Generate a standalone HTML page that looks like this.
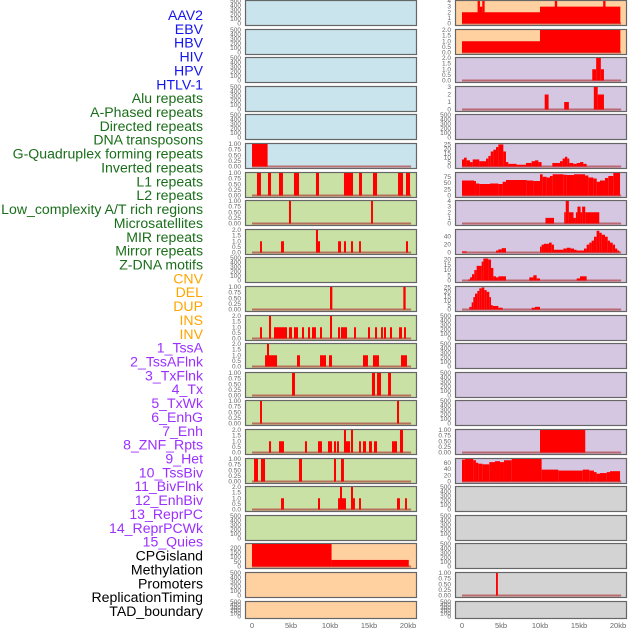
<!DOCTYPE html>
<html><head><meta charset="utf-8"><style>
html,body{margin:0;padding:0;background:#fff;width:630px;height:630px;overflow:hidden}
svg{display:block}
</style></head><body>
<svg id="chart" width="630" height="630" xmlns="http://www.w3.org/2000/svg"></svg>
<script>
const labelNames = ["AAV2","EBV","HBV","HIV","HPV","HTLV-1","Alu repeats","A-Phased repeats","Directed repeats","DNA transposons","G-Quadruplex forming repeats","Inverted repeats","L1 repeats","L2 repeats","Low_complexity A/T rich regions","Microsatellites","MIR repeats","Mirror repeats","Z-DNA motifs","CNV","DEL","DUP","INS","INV","1_TssA","2_TssAFlnk","3_TxFlnk","4_Tx","5_TxWk","6_EnhG","7_Enh","8_ZNF_Rpts","9_Het","10_TssBiv","11_BivFlnk","12_EnhBiv","13_ReprPC","14_ReprPCWk","15_Quies","CPGisland","Methylation","Promoters","ReplicationTiming","TAD_boundary"];
const labelGroups = ["v","v","v","v","v","v","r","r","r","r","r","r","r","r","r","r","r","r","r","s","s","s","s","s","c","c","c","c","c","c","c","c","c","c","c","c","c","c","c","o","o","o","o","o"];
const xTickKb = [0,5,10,15,20];
const xTickText = ["0","5kb","10kb","15kb","20kb"];
const ticksEmpty = [0,100,200,300,400,500];
const ticksUnit = [0,0.25,0.5,0.75,1];
const ticks2 = [0,0.5,1,1.5,2];
// left column segments [startKb, endKb, value]
const segsL5 = [[0,2.0,1]];
const segsL6 = [[0.64,1.15,1],[2.05,2.44,1],[3.46,3.97,1],[5.38,6.03,1],[8.2,8.59,1],[11.79,12.95,1],[13.72,14.1,1],[15.51,16.03,1],[18.72,19.36,1],[19.74,20.26,1]];
const segsL7 = [[4.74,5.0,1],[15.26,15.51,1]];
const segsL8 = [[1.03,1.28,1],[3.72,4.1,1],[8.2,8.46,2],[8.46,8.72,1],[11.03,11.41,1],[11.79,12.05,1],[12.69,12.95,1],[13.72,13.97,1],[19.74,20.0,1]];
const segsL10 = [[10.0,10.3,1],[19.4,19.7,1]];
const segsL11 = [[1.03,1.28,1],[2.18,2.44,2],[2.82,4.49,1],[4.74,5.13,1],[5.38,5.9,1],[6.41,6.67,1],[7.18,7.44,1],[7.69,8.2,1],[8.72,8.97,1],[10.0,10.26,2],[11.03,11.28,1],[11.41,12.18,1],[13.08,13.33,1],[14.87,15.13,1],[15.77,16.03,1],[16.54,16.79,1],[16.92,17.18,1],[17.69,17.95,1],[18.85,19.23,1],[19.49,19.74,1]];
const segsL12 = [[1.67,3.21,1],[1.92,2.18,2],[5.77,6.15,1],[8.72,9.49,1],[9.87,10.26,1],[14.23,14.87,1],[15.51,16.28,1],[19.1,19.87,1]];
const segsL13 = [[5.13,5.51,1],[15.38,15.77,1],[16.03,16.54,1],[17.44,17.82,1]];
const segsL14 = [[1.03,1.28,1],[18.59,18.85,1]];
const segsL15 = [[2.18,2.44,1],[3.46,4.1,1],[6.79,7.05,1],[8.46,8.97,1],[9.74,10.26,1],[10.51,10.77,1],[10.9,11.15,1],[11.79,12.05,2],[12.05,12.56,1],[12.69,12.95,2],[13.72,13.97,1],[14.23,14.62,1],[15.0,15.38,1],[15.64,16.03,1],[17.95,18.59,1],[18.97,19.36,2]];
const segsL16 = [[0.26,0.77,1],[1.15,1.67,1],[6.03,6.41,1],[10.51,10.77,1],[11.41,11.79,1]];
const segsL17 = [[3.72,4.1,1],[8.46,8.72,1],[11.03,11.28,1],[11.28,11.54,2],[11.54,12.05,1],[12.69,12.95,2],[12.95,13.2,1],[13.72,13.97,1],[18.59,18.97,1],[19.62,19.87,1]];
const segsL19 = [[0,10.2,250],[10.2,20.1,71]];
// right column
const segsR0 = [[0,10,2],[10,20.3,3],[2.0,2.3,4],[2.3,2.6,3],[2.6,2.9,4],[11.9,12.2,4],[18.1,18.4,4]];
const segsR1 = [[0,10,1],[10,20.3,2]];
const segsR2 = [[16.7,17.2,1],[17.2,17.8,2],[17.8,18.2,1]];
const segsR3 = [[10.6,11.1,2],[13.1,13.7,1],[16.9,17.4,3],[17.4,18.2,2]];
const edgesR5 = [0,0.26,0.6,1.03,1.37,2.22,3.08,3.38,3.68,4.02,4.36,4.66,5.3,5.64,5.94,7.0,8.2,8.93,9.36,9.79,10.2,11.58,12.56,12.9,13.2,13.5,13.76,14.27,14.7,15.13,15.56,15.98];
const valsR5 = [8,10,7,5,8,6,9,12,17,19,22,25,17,5,3,2,4,6,7,5,0,4,6,9,11,9,4,3,4,5,3];
const edgesR6 = [0,1.54,1.79,2.22,3.59,4.66,5.21,5.64,8.29,9.15,10.0,10.34,10.85,11.28,11.62,12.99,13.42,14.36,15.77,16.2,16.84,17.27,17.69,18.33,18.76,19.4,20.26];
const valsR6 = [60,58,48,46,48,46,55,62,60,58,85,75,72,78,85,83,82,85,80,72,68,55,60,70,78,90];
const segsR7 = [[10.7,11.8,1],[13.1,13.3,2],[13.3,13.7,4],[13.7,14.3,2],[14.3,14.6,1],[14.6,14.8,2],[14.8,15.2,3],[15.2,15.4,2],[15.4,15.8,3],[15.8,17.6,2]];
const segsR8 = [[0,0.6,3],[4.36,4.66,5],[4.66,5.09,8],[5.09,5.64,11],[10.0,10.21,15],[10.21,10.51,20],[10.51,11.15,22],[11.15,11.5,25],[11.5,11.79,20],[11.79,12.99,7],[12.99,13.42,10],[13.42,13.93,12],[13.93,14.36,10],[14.36,14.7,7],[14.7,15.64,5],[15.64,15.98,10],[15.98,16.32,20],[16.32,16.62,25],[16.62,16.92,30],[16.92,17.26,40],[17.26,17.61,55],[17.61,17.91,50],[17.91,18.33,45],[18.33,18.68,40],[18.68,18.97,30],[18.97,19.32,25],[19.32,19.62,20],[19.62,19.91,10],[19.91,20.17,5]];
const segsR9 = [[0.77,1.03,1],[1.03,1.28,3],[1.28,1.58,6],[1.58,1.88,10],[1.88,2.52,14],[2.52,2.74,18],[2.74,3.38,21],[3.38,3.72,20],[3.72,4.02,12],[4.02,4.36,4],[4.36,4.66,3],[4.66,5.64,4],[8.63,9.15,3],[9.15,9.57,5],[9.57,10.0,2],[14.7,15.13,2],[15.13,15.98,4]];
const segsR10 = [[0.94,1.24,3],[1.24,1.45,8],[1.45,1.67,14],[1.67,1.97,18],[1.97,2.22,21],[2.22,2.52,24],[2.52,2.86,25],[2.86,3.16,22],[3.16,3.5,20],[3.5,3.72,14],[3.72,3.93,5],[3.93,4.66,4],[4.66,5.21,2],[8.93,9.36,2],[9.36,10.0,3]];
const segsR15 = [[10,15.8,1]];
const edgesR16 = [0,0.38,1.45,1.79,2.09,2.61,3.5,4.23,4.87,5.38,6.37,10.21,12.35,15.47,16.32,16.92,17.26,17.69,18.55,18.97,20.26];
const valsR16 = [70,72,68,60,57,55,62,65,62,68,72,38,35,38,35,30,25,27,30,33];
const segsR20 = [[4.36,4.6,1]];

function prof(edges, vals){ const out=[]; for(let i=0;i<vals.length;i++) out.push([edges[i],edges[i+1],vals[i]]); return out; }

const B="#c9e4ec",G="#c9e1a4",P="#ffd1a0",U="#d5c6e2",Y="#d3d3d3";
const leftTracks = [
 [B,ticksEmpty,500,null],[B,ticksEmpty,500,null],[B,ticksEmpty,500,null],[B,ticksEmpty,500,null],[B,ticksEmpty,500,null],
 [B,ticksUnit,1,segsL5],[G,ticksUnit,1,segsL6],[G,ticksUnit,1,segsL7],[G,ticks2,2,segsL8],[G,ticksEmpty,500,null],
 [G,ticksUnit,1,segsL10],[G,ticks2,2,segsL11],[G,ticks2,2,segsL12],[G,ticksUnit,1,segsL13],[G,ticksUnit,1,segsL14],
 [G,ticks2,2,segsL15],[G,ticksUnit,1,segsL16],[G,ticks2,2,segsL17],[G,ticksEmpty,500,null],
 [P,[0,50,100,150,200],243,segsL19],[P,ticksEmpty,500,null],[P,ticksEmpty,500,null]
];
const rightTracks = [
 [P,[0,1,2,3,4],4,segsR0],[P,ticks2,2,segsR1],[U,ticks2,2,segsR2],[U,[0,1,2,3],3,segsR3],[U,ticksEmpty,500,null],
 [U,[0,5,10,15,20,25],25.5,prof(edgesR5,valsR5)],[U,[0,25,50,75],90,prof(edgesR6,valsR6)],[U,[0,1,2,3,4],4,segsR7],
 [U,[0,20,40],57,segsR8],[U,[0,5,10,15,20],21.5,segsR9],[U,[0,5,10,15,20,25],25.5,segsR10],
 [U,ticksEmpty,500,null],[U,ticksEmpty,500,null],[U,ticksEmpty,500,null],[U,ticksEmpty,500,null],
 [U,ticksUnit,1,segsR15],[U,[0,20,40,60],72,prof(edgesR16,valsR16)],
 [Y,ticksEmpty,500,null],[Y,ticksEmpty,500,null],[Y,ticksEmpty,500,null],[Y,ticksUnit,1,segsR20],[Y,ticksEmpty,500,null]
];

const svg=document.getElementById('chart');
const NS="http://www.w3.org/2000/svg";
function mk(tag,attrs,parent){const e=document.createElementNS(NS,tag);for(const k in attrs)e.setAttribute(k,attrs[k]);(parent||svg).appendChild(e);return e;}
function fmt(t,ticks){const dec=ticks.some(v=>v%1!==0)?(ticks.some(v=>(v*10)%1!==0)?2:1):0;return t.toFixed(dec);}

const colors={v:"#1515ee",r:"#1a6e1a",s:"#ffa500",c:"#9b30ff",o:"#000"};
labelNames.forEach((n,i)=>{
  const t=mk('text',{x:203,y:20+i*13.86,'text-anchor':'end','font-family':'Liberation Sans, sans-serif','font-size':'14.1',fill:colors[labelGroups[i]]});
  
  
  t.textContent=n;
});

function drawCol(tracks,px,colName){
  const x0=px+7, kbW=7.8;
  const xs=kb=>x0+kb*kbW;
  tracks.forEach((tr,i)=>{
    const [bg,ticks,max,segs]=tr;
    const top=Math.round(i*28.6), h=(i===tracks.length-1)?17:25;
    const g=mk('g',{});
    
    
    mk('rect',{x:px+0.5,y:top+0.5,width:171,height:h,fill:bg,stroke:'#666','stroke-width':1.2},g);
    const yb=top+h-1.5, yt=top+1;
    const ys=v=>yb-(Math.min(v,max)/max)*(yb-yt);
    ticks.forEach(t=>{
      const tx=mk('text',{x:px-4,y:ys(t)+2,'text-anchor':'end','font-family':'Liberation Sans, sans-serif','font-size':'6.5',fill:'#666'},g);
      
      
      tx.textContent=fmt(t,ticks);
    });
    if(segs){
      mk('line',{x1:xs(0),x2:xs(20.4),y1:yb,y2:yb,stroke:'#b04040','stroke-width':2,'stroke-opacity':0.7},g);
      segs.forEach(s=>{
        const r=mk('rect',{x:xs(s[0]),y:ys(s[2]),width:Math.max(xs(s[1])-xs(s[0]),1.5),height:yb-ys(s[2]),fill:'#ff0000'},g);
        
        
      });
    }
  });
  xTickKb.forEach((k,i)=>{
    const t=mk('text',{x:xs(k),y:628,'text-anchor':'middle','font-family':'Liberation Sans, sans-serif','font-size':'7.5',fill:'#666'});
    
    
    t.textContent=xTickText[i];
  });
}
drawCol(leftTracks,245,'left');
drawCol(rightTracks,455,'right');
</script>
</body></html>
